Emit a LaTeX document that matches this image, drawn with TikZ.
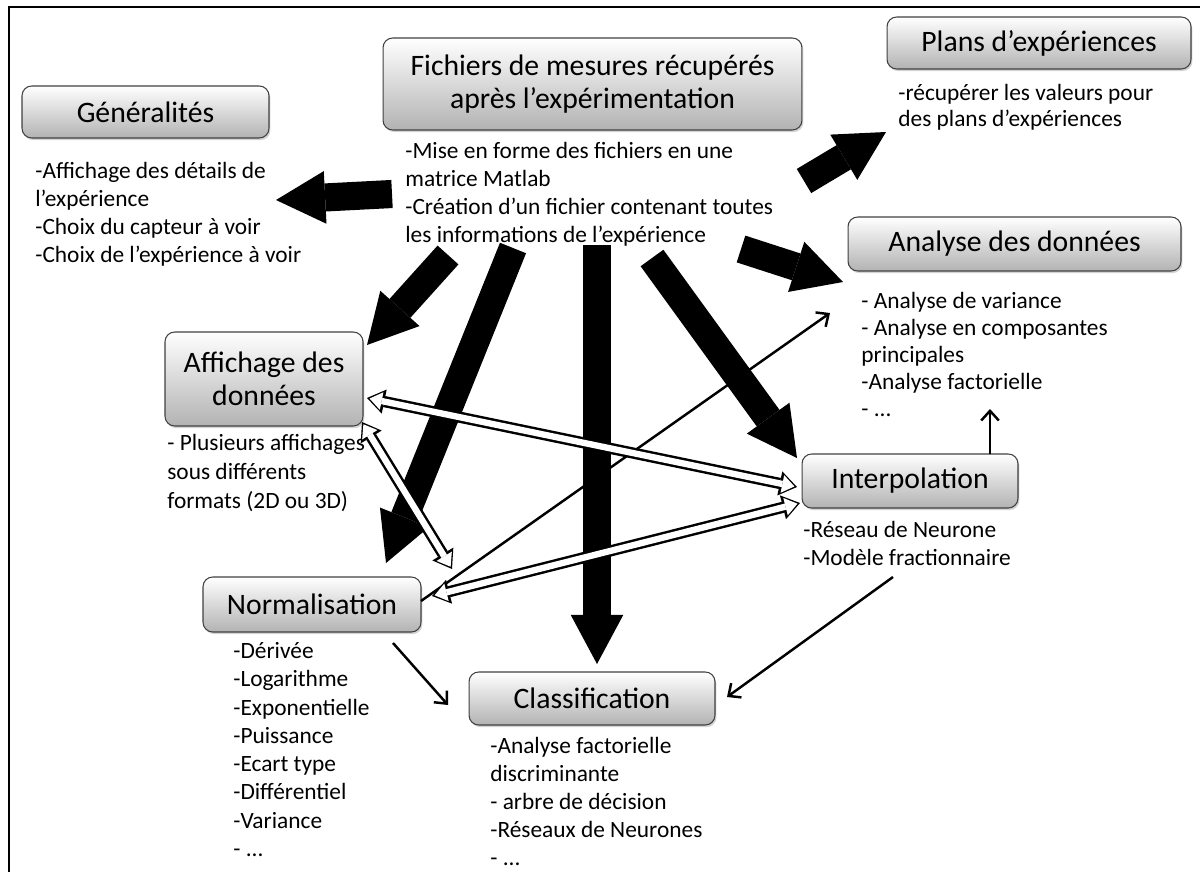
\documentclass[tikz,border=0pt]{standalone}
\usepackage{fontspec}
\setmainfont{Carlito}
\usetikzlibrary{arrows.meta,shadows}

\tikzset{
  box/.style={draw=black!75, line width=0.6pt, rounded corners=5.5pt, top color=white, bottom color=black!30,
    drop shadow={shadow xshift=0.8pt, shadow yshift=-1.2pt, opacity=0.35},
    font=\fontsize{16.9}{18.7}\selectfont, align=center, inner sep=0pt},
  body/.style={anchor=north west, align=left, inner sep=0pt, font=\fontsize{13.3}{15.9}\selectfont},
  bigarrow/.style={line width=16pt, -{Triangle[length=28pt,width=30pt,line width=0pt]}},
  openout/.style={line width=6.4pt, {Triangle[length=10pt,width=14pt,line width=0pt]}-{Triangle[length=10pt,width=14pt,line width=0pt]}},
  openin/.style={white, line width=3.6pt, shorten <=1.5pt, shorten >=1.5pt,
    {Triangle[length=7pt,width=10.2pt,line width=0pt]}-{Triangle[length=7pt,width=10.2pt,line width=0pt]}},
  thinarrow/.style={line width=1.4pt, -{Straight Barb[length=5.5pt,width=10pt]}}
}

\begin{document}
\begin{tikzpicture}[x=0.02cm, y=-0.02cm]
  \useasboundingbox (0,0) rectangle (1200,872);
  \draw[line width=1.7pt] (9,872) -- (9,7) -- (1200,7);

  % boxes
  \node[box, minimum width=4.94cm, minimum height=1.04cm] (gen) at (145.5,112) {Généralités};
  \node[box, minimum width=8.38cm, minimum height=1.84cm] (fich) at (592.5,84) {Fichiers de mesures récupérés\\après l’expérimentation};
  \node[box, minimum width=6.08cm, minimum height=1.04cm] (plans) at (1039,43) {Plans d’expériences};
  \node[box, minimum width=6.66cm, minimum height=1.08cm] (analyse) at (1014.5,244) {Analyse des données};
  \node[box, minimum width=3.96cm, minimum height=1.88cm] (affich) at (264,379) {Affichage des\\données};
  \node[box, minimum width=4.32cm, minimum height=1.08cm] (interp) at (910,481) {Interpolation};
  \node[box, minimum width=4.36cm, minimum height=1.1cm] (norm) at (312,604.5) {Normalisation};
  \node[box, minimum width=4.92cm, minimum height=1.06cm] (class) at (592,698.5) {Classification};

  % texts
  \node[body] (gentxt) at (35,162) {-Affichage des détails de\\l’expérience\\-Choix du capteur à voir\\-Choix de l’expérience à voir};
  \node[body] (fichtxt) at (405,142) {-Mise en forme des fichiers en une\\matrice Matlab\\-Création d’un fichier contenant toutes\\les informations de l’expérience};
  \node[body, font=\fontsize{13.3}{14.8}\selectfont] (planstxt) at (898,84) {-récupérer les valeurs pour\\des plans d’expériences};
  \node[body, font=\fontsize{13.3}{15.4}\selectfont] (analysetxt) at (861,292) {- Analyse de variance\\- Analyse en composantes\\principales\\-Analyse factorielle\\- ...};
  \node[body, font=\fontsize{13.3}{16.4}\selectfont] (affichtxt) at (167,434) {- Plusieurs affichages\\sous différents\\formats (2D ou 3D)};
  \node[body] (interptxt) at (803,521) {-Réseau de Neurone\\-Modèle fractionnaire};
  \node[body, font=\fontsize{13.3}{16.1}\selectfont] (normtxt) at (233,642) {-Dérivée\\-Logarithme\\-Exponentielle\\-Puissance\\-Ecart type\\-Différentiel\\-Variance\\- ...};
  \node[body] (classtxt) at (490,737) {-Analyse factorielle\\discriminante\\- arbre de décision\\-Réseaux de Neurones\\- ...};

  % arrow ends
  \coordinate (f-gen) at (392,194);   \coordinate (h-gen) at (276,200);
  \coordinate (f-plans) at (804,181); \coordinate (h-plans) at (886,132);
  \coordinate (f-ana) at (741,249);   \coordinate (h-ana) at (843,282);
  \coordinate (f-aff) at (448,255);   \coordinate (h-aff) at (367,345);
  \coordinate (f-norm) at (513,248);  \coordinate (h-norm) at (386,563);
  \coordinate (f-class) at (597,245); \coordinate (h-class) at (597,664);
  \coordinate (f-int) at (652,258);   \coordinate (h-int) at (797,458);

  \coordinate (a1) at (367,398); \coordinate (i1) at (797,487);
  \coordinate (n1) at (432,596); \coordinate (i2) at (800,503);
  \coordinate (a2) at (362,422); \coordinate (n2) at (452,569);

  \coordinate (n3) at (393,643); \coordinate (c1) at (448,705);
  \coordinate (i3) at (893,577); \coordinate (c2) at (727,697);
  \coordinate (i4) at (990,454); \coordinate (an1) at (990,409);
  \coordinate (n4) at (421,601); \coordinate (an2) at (830,313);

  % big arrows
  \foreach \a/\b in {f-gen/h-gen, f-plans/h-plans, f-ana/h-ana, f-aff/h-aff, f-norm/h-norm, f-class/h-class, f-int/h-int}
    \draw[bigarrow] (\a) -- (\b);

  % thin arrows
  \foreach \a/\b in {n3/c1, i3/c2, i4/an1, n4/an2}
    \draw[thinarrow] (\a) -- (\b);

  % open double arrows
  \foreach \a/\b in {a1/i1, n1/i2, a2/n2} {
    \draw[openout] (\a) -- (\b);
    \draw[openin] (\a) -- (\b);
  }
\end{tikzpicture}
\end{document}
